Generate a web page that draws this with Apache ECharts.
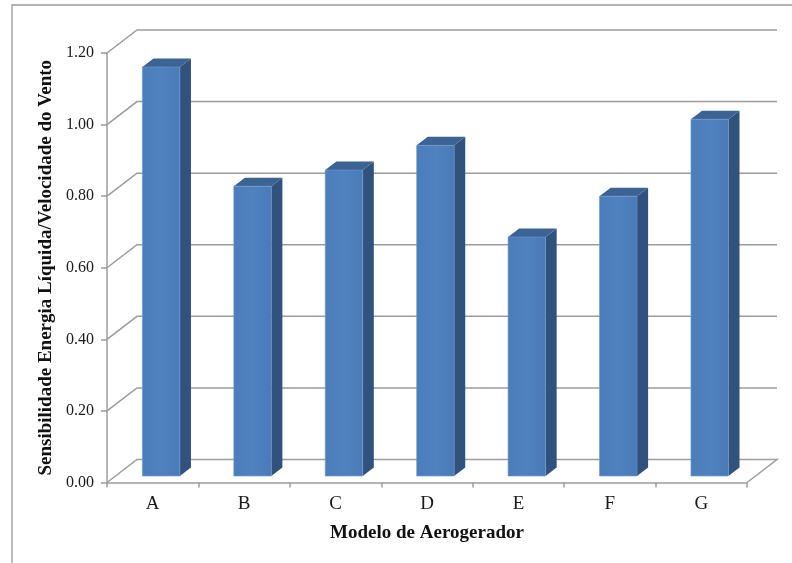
<!DOCTYPE html>
<html>
<head>
<meta charset="utf-8">
<script src="https://cdn.jsdelivr.net/npm/echarts@6/dist/echarts.min.js"></script>
<style>
  html, body { margin: 0; padding: 0; background: #fff; }
  #chart { width: 792px; height: 563px; }
</style>
</head>
<body>
<div id="chart"></div>
<script>
// Wind turbine models and their net-energy / wind-speed sensitivity
const categories = ['A', 'B', 'C', 'D', 'E', 'F', 'G'];
const sensitivity = [1.143, 0.81, 0.855, 0.924, 0.668, 0.782, 0.997];
const yTicks = [0, 0.2, 0.4, 0.6, 0.8, 1.0, 1.2];

// Oblique depth of the floor and walls (pixels, x to the right, y upward)
const DEPTH_X = 30;
const DEPTH_Y = -23;
// Bars sit between these depth fractions of the floor
const BAR_FRONT = 0.28;
const BAR_BACK = 0.65;
const BAR_WIDTH = 0.41;

const GRID_COLOR = '#9c9c9c';
const FONT = '"Liberation Serif", "Times New Roman", serif';

const chart = echarts.init(document.getElementById('chart'), null, { renderer: 'canvas' });

function renderWalls(params, api) {
  const cs = params.coordSys;
  const v = api.value(1);
  const y = api.coord([0, v])[1];
  const left = cs.x;
  const right = cs.x + cs.width;
  const pts = [[left, y], [left + DEPTH_X, y + DEPTH_Y], [right + DEPTH_X, y + DEPTH_Y]];
  if (v === 0) pts.push([right, y]);
  return {
    type: 'polyline',
    shape: { points: pts },
    style: { stroke: GRID_COLOR, lineWidth: 1.5, fill: null }
  };
}

function renderBar(params, api) {
  const i = api.value(0);
  const v = api.value(1);
  const base = api.coord([i, 0]);
  const top = api.coord([i, v]);
  const w = api.size([1, 0])[0] * BAR_WIDTH;
  const xl = base[0] - w / 2 + BAR_FRONT * DEPTH_X;
  const xr = xl + w;
  const yb = base[1] + BAR_FRONT * DEPTH_Y;
  const yt = top[1] + BAR_FRONT * DEPTH_Y;
  const sx = (BAR_BACK - BAR_FRONT) * DEPTH_X;
  const sy = (BAR_BACK - BAR_FRONT) * DEPTH_Y;
  return {
    type: 'group',
    children: [
      {
        type: 'polygon',
        shape: { points: [[xr, yb], [xr + sx, yb + sy], [xr + sx, yt + sy], [xr, yt]] },
        style: { fill: '#31527c' }
      },
      {
        type: 'polygon',
        shape: { points: [[xl, yt], [xr, yt], [xr + sx, yt + sy], [xl + sx, yt + sy]] },
        style: { fill: '#3b6394' }
      },
      {
        type: 'rect',
        shape: { x: xl, y: yt, width: w, height: yb - yt },
        style: {
          fill: new echarts.graphic.LinearGradient(0, 0, 1, 0, [
            { offset: 0, color: '#4b7dba' },
            { offset: 0.5, color: '#5082bf' },
            { offset: 1, color: '#4a7bb8' }
          ]),
          stroke: '#6f98cc',
          lineWidth: 0.6
        }
      }
    ]
  };
}

const option = {
  animation: false,
  backgroundColor: '#ffffff',
  graphic: [
    {
      type: 'rect',
      shape: { x: 12, y: 5, width: 800, height: 600 },
      style: { fill: null, stroke: '#9a9a9a', lineWidth: 1.3 },
      silent: true,
      z: -10
    }
  ],
  grid: { left: 107, right: 45, top: 53, bottom: 80.5 },
  xAxis: {
    type: 'category',
    data: categories,
    boundaryGap: true,
    axisLine: { lineStyle: { color: GRID_COLOR, width: 1.5 } },
    axisTick: { show: true, interval: 0, length: 5, lineStyle: { color: GRID_COLOR, width: 1.5 } },
    axisLabel: { margin: 12, fontFamily: FONT, fontSize: 19, color: '#1a1a1a' },
    splitLine: { show: false },
    name: 'Modelo de Aerogerador',
    nameLocation: 'middle',
    nameGap: 41,
    nameTextStyle: { fontFamily: FONT, fontSize: 19, fontWeight: 'bold', color: '#111' }
  },
  yAxis: {
    type: 'value',
    min: 0,
    max: 1.2,
    interval: 0.2,
    axisLine: { show: true, lineStyle: { color: GRID_COLOR, width: 1.5 } },
    axisTick: { show: true, length: 6, lineStyle: { color: GRID_COLOR, width: 1.5 } },
    axisLabel: {
      margin: 13,
      fontFamily: FONT,
      fontSize: 16,
      color: '#1a1a1a',
      formatter: v => v.toFixed(2)
    },
    splitLine: { show: false },
    name: 'Sensibilidade Energia Líquida/Velocidade do Vento',
    nameLocation: 'middle',
    nameGap: 48,
    nameTextStyle: { fontFamily: FONT, fontSize: 19, fontWeight: 'bold', color: '#111' }
  },
  series: [
    {
      type: 'custom',
      name: 'walls',
      renderItem: renderWalls,
      encode: { x: 0, y: 1 },
      data: yTicks.map(v => [0, v]),
      silent: true,
      z: 1
    },
    {
      type: 'custom',
      name: 'Sensibilidade',
      renderItem: renderBar,
      encode: { x: 0, y: 1 },
      data: sensitivity.map((v, i) => [i, v]),
      z: 5
    }
  ]
};

chart.setOption(option);
</script>
</body>
</html>
